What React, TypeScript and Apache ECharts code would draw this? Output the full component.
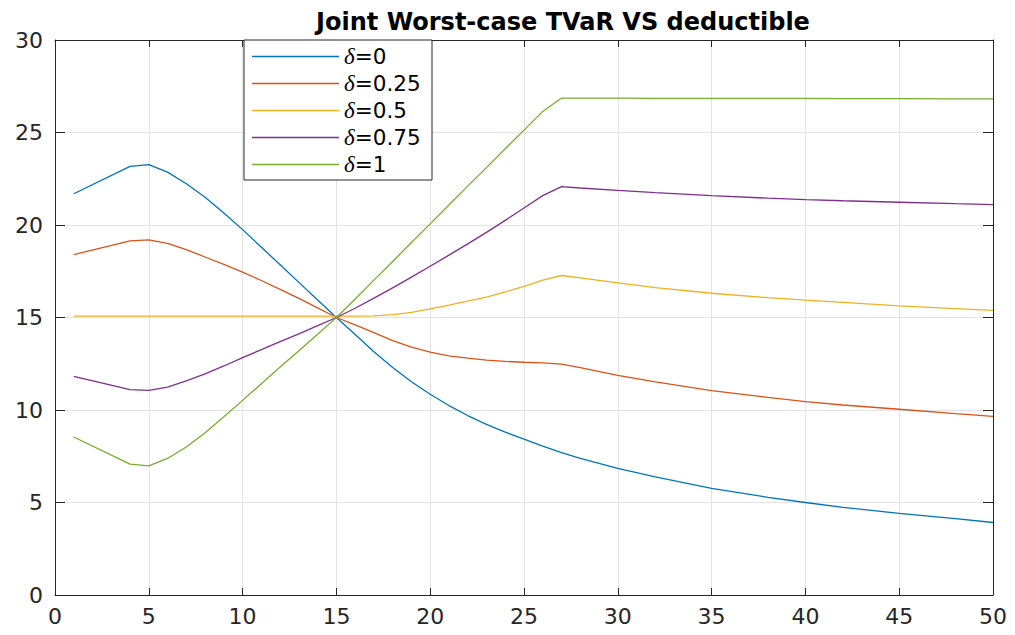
import React, { useEffect, useRef } from "react";
import * as echarts from "echarts";

const xValues = [1, 4, 5, 6, 7, 8, 9, 10, 11, 12, 13, 14, 15, 16, 17, 18, 19, 20, 21, 22, 23, 24, 25, 26, 27, 28, 30, 32, 35, 38, 40, 42, 45, 48, 50];

const delta0 = [21.69, 23.17, 23.26, 22.86, 22.23, 21.5, 20.65, 19.75, 18.8, 17.85, 16.9, 15.95, 15.0, 14.08, 13.15, 12.3, 11.53, 10.85, 10.24, 9.7, 9.22, 8.8, 8.42, 8.05, 7.7, 7.38, 6.84, 6.38, 5.76, 5.28, 5.0, 4.74, 4.41, 4.13, 3.92];
const delta025 = [18.4, 19.14, 19.2, 19.01, 18.67, 18.27, 17.87, 17.45, 17.0, 16.52, 16.03, 15.52, 15.0, 14.6, 14.18, 13.75, 13.4, 13.13, 12.93, 12.8, 12.7, 12.63, 12.58, 12.55, 12.48, 12.29, 11.87, 11.52, 11.05, 10.68, 10.45, 10.27, 10.04, 9.8, 9.66];
const delta05 = [15.07, 15.07, 15.07, 15.07, 15.07, 15.07, 15.07, 15.07, 15.07, 15.07, 15.07, 15.07, 15.07, 15.07, 15.09, 15.15, 15.28, 15.47, 15.67, 15.88, 16.1, 16.38, 16.68, 17.02, 17.27, 17.14, 16.87, 16.62, 16.31, 16.07, 15.94, 15.82, 15.63, 15.48, 15.38];
const delta075 = [11.82, 11.1, 11.06, 11.24, 11.57, 11.95, 12.38, 12.83, 13.26, 13.7, 14.12, 14.56, 15.0, 15.5, 16.05, 16.6, 17.18, 17.77, 18.37, 18.98, 19.6, 20.25, 20.92, 21.59, 22.07, 22.0, 21.87, 21.75, 21.59, 21.45, 21.37, 21.31, 21.23, 21.15, 21.1];
const delta1 = [8.54, 7.07, 6.98, 7.38, 8.0, 8.77, 9.63, 10.52, 11.42, 12.32, 13.2, 14.1, 15.0, 16.0, 17.02, 18.03, 19.05, 20.06, 21.08, 22.1, 23.1, 24.12, 25.13, 26.14, 26.86, 26.86, 26.86, 26.85, 26.85, 26.84, 26.84, 26.83, 26.83, 26.82, 26.82];

const seriesNames = ["δ=0", "δ=0.25", "δ=0.5", "δ=0.75", "δ=1"];
const seriesValues = [delta0, delta025, delta05, delta075, delta1];
const seriesColors = ["#0072BD", "#D95319", "#EDB120", "#7E2F8E", "#77AC30"];

const titleText = "Joint Worst-case TVaR VS deductible";

export default function App() {
  const ref = useRef<HTMLDivElement>(null);
  useEffect(() => {
    if (!ref.current) return;
    const chart = echarts.init(ref.current, null, { renderer: "svg" });
    const axisColor = "#262626";
    const labelFont = { color: axisColor, fontFamily: "DejaVu Sans", fontSize: 22 };
    const gridColor = "#e3e3e3";
    chart.setOption({
      animation: false,
      backgroundColor: "#ffffff",
      title: {
        text: titleText,
        left: 558,
        textAlign: "center",
        top: 5,
        textStyle: { fontFamily: "DejaVu Sans", fontWeight: "bold", fontSize: 24, color: "#000000" },
      },
      grid: { left: 55, right: 22, top: 40, bottom: 40, containLabel: false },
      xAxis: [
        {
          type: "value", min: 0, max: 50, interval: 5, position: "bottom",
          axisLine: { show: true, onZero: false, lineStyle: { color: axisColor, width: 1 } },
          axisTick: { show: true, inside: true, length: 7, lineStyle: { color: axisColor } },
          axisLabel: { ...labelFont, margin: 10 },
          splitLine: { show: true, lineStyle: { color: gridColor, width: 1 } },
        },
        {
          type: "value", min: 0, max: 50, interval: 5, position: "top",
          axisLine: { show: true, onZero: false, lineStyle: { color: axisColor, width: 1 } },
          axisTick: { show: true, inside: true, length: 7, lineStyle: { color: axisColor } },
          axisLabel: { show: false },
          splitLine: { show: false },
        },
      ],
      yAxis: [
        {
          type: "value", min: 0, max: 30, interval: 5, position: "left",
          axisLine: { show: true, onZero: false, lineStyle: { color: axisColor, width: 1 } },
          axisTick: { show: true, inside: true, length: 10, lineStyle: { color: axisColor } },
          axisLabel: { ...labelFont, margin: 12 },
          splitLine: { show: true, lineStyle: { color: gridColor, width: 1 } },
        },
        {
          type: "value", min: 0, max: 30, interval: 5, position: "right",
          axisLine: { show: true, onZero: false, lineStyle: { color: axisColor, width: 1 } },
          axisTick: { show: true, inside: true, length: 10, lineStyle: { color: axisColor } },
          axisLabel: { show: false },
          splitLine: { show: false },
        },
      ],
      legend: {
        show: true,
        orient: "vertical",
        left: 252,
        top: 45,
        icon: "rect",
        itemWidth: 87,
        itemHeight: 1.5,
        itemGap: 4,
        itemTextGap: 8,
        padding: 0,
        data: seriesNames,
        formatter: (name: string) => "{d|δ}{n|" + name.slice(1) + "}",
        textStyle: {
          color: "#000000",
          fontSize: 21,
          lineHeight: 20,
          rich: {
            d: { fontFamily: "Liberation Serif", fontStyle: "italic", fontSize: 23, lineHeight: 20, color: "#000000" },
            n: { fontFamily: "DejaVu Sans", fontSize: 21.5, lineHeight: 20, color: "#000000" },
          },
        },
      },
      graphic: [
        {
          type: "rect",
          z: 4,
          shape: { x: 244, y: 40, width: 188, height: 140 },
          style: { fill: "#ffffff", stroke: axisColor, lineWidth: 1 },
        },
      ],
      series: seriesNames.map((name, i) => ({
        name,
        type: "line",
        xAxisIndex: 0,
        yAxisIndex: 0,
        symbol: "none",
        showSymbol: false,
        smooth: false,
        lineStyle: { color: seriesColors[i], width: 1.3 },
        itemStyle: { color: seriesColors[i] },
        data: xValues.map((x, j) => [x, seriesValues[i][j]]),
        z: 2,
      })),
    });
    return () => chart.dispose();
  }, []);
  return (
    <div
      ref={ref}
      style={{ position: "fixed", left: 0, top: 0, width: 1015, height: 635 }}
    />
  );
}
